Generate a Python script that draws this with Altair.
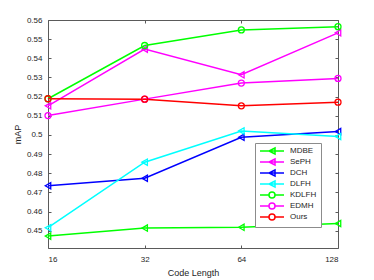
import altair as alt
import pandas as pd

code_lengths = [16, 32, 64, 128]
series_names = ["MDBE", "SePH", "DCH", "DLFH", "KDLFH", "EDMH", "Ours"]
series_colors = ["#00ff00", "#ff00ff", "#0000ff", "#00ffff", "#00ff00", "#ff00ff", "#ff0000"]
series_marker = ["tri", "tri", "tri", "tri", "circ", "circ", "circ"]

mdbe = [0.4472, 0.4514, 0.4518, 0.4538]
seph = [0.5152, 0.5448, 0.5314, 0.5533]
dch = [0.4735, 0.4774, 0.4988, 0.5018]
dlfh = [0.4516, 0.4858, 0.5021, 0.4992]
kdlfh = [0.5189, 0.5467, 0.5548, 0.5565]
edmh = [0.5101, 0.5187, 0.5271, 0.5295]
ours = [0.5189, 0.5187, 0.5152, 0.5171]

values = [mdbe, seph, dch, dlfh, kdlfh, edmh, ours]
y_ticks = [0.45, 0.46, 0.47, 0.48, 0.49, 0.50, 0.51, 0.52, 0.53, 0.54, 0.55, 0.56]

rows = []
for name, mk, vals in zip(series_names, series_marker, values):
    for x, v in zip(code_lengths, vals):
        rows.append({"len": x, "mAP": v, "method": name, "marker": mk})
df = pd.DataFrame(rows)

FONT = "Liberation Sans"
TXT = "#262626"

x_scale = alt.Scale(type="log", base=2, domain=[16, 128], nice=False)
y_scale = alt.Scale(domain=[0.441, 0.56], nice=False, zero=False)
color_scale = alt.Scale(domain=series_names, range=series_colors)

tri_path = "M-4,0H4M1,-1L-1,0L1,1Z"
circ_path = "M-4,0H-1M1,0H4M1,0A1,1,0,1,1,-1,0A1,1,0,1,1,1,0"
shape_scale = alt.Scale(domain=series_names,
                        range=[tri_path if m == "tri" else circ_path for m in series_marker])

x_main = alt.X("len:Q", scale=x_scale,
               axis=alt.Axis(values=code_lengths, title="Code Length", orient="bottom",
                             offset=-3, tickSize=3, labelPadding=7, domain=False,
                             grid=False, titlePadding=5, format="d"))
y_main = alt.Y("mAP:Q", scale=y_scale,
               axis=alt.Axis(values=y_ticks, title="mAP", orient="left",
                             offset=-3, tickSize=3, labelPadding=6, domain=False,
                             grid=False, format=".2~f", titlePadding=4))
x_top = alt.X("len:Q", scale=x_scale,
              axis=alt.Axis(values=code_lengths, title=None, orient="top", labels=False,
                            offset=-3, tickSize=3, domain=False, grid=False))
y_right = alt.Y("mAP:Q", scale=y_scale,
                axis=alt.Axis(values=y_ticks, title=None, orient="right", labels=False,
                              offset=-3, tickSize=3, domain=False, grid=False))
x_none = alt.X("len:Q", scale=x_scale, axis=None)
y_none = alt.Y("mAP:Q", scale=y_scale, axis=None)

color_enc = alt.Color("method:N", scale=color_scale, legend=None)

lines = alt.Chart(df).mark_line(strokeWidth=1.5).encode(
    x=x_main, y=y_main, color=color_enc, detail="method:N")

tri_pts = alt.Chart(df).transform_filter(alt.datum.marker == "tri").mark_point(
    shape="triangle-left", size=40, filled=False, strokeWidth=1.3, opacity=1
).encode(x=x_top, y=y_right, color=color_enc)

circ_pts = alt.Chart(df).transform_filter(alt.datum.marker == "circ").mark_point(
    shape="circle", size=36, filled=False, strokeWidth=1.3, opacity=1
).encode(x=x_none, y=y_none, color=color_enc)

leg = alt.Legend(title=None, orient="none", legendX=207, legendY=123,
                 symbolOffset=9, labelOffset=14,
                 labelFont=FONT, labelFontSize=8, labelColor=TXT,
                 symbolStrokeWidth=1.5, symbolSize=36,
                 symbolFillColor="transparent",
                 rowPadding=-1, padding=4,
                 strokeColor="#8c8c8c", fillColor="white")

legend_layer = alt.Chart(df).transform_filter("false").mark_point(
    filled=False, opacity=1, size=36, strokeWidth=1.5
).encode(
    x=x_none, y=y_none,
    color=alt.Color("method:N", scale=color_scale, legend=leg),
    shape=alt.Shape("method:N", scale=shape_scale, legend=leg),
)

chart = alt.layer(lines, tri_pts, circ_pts, legend_layer).resolve_axis(
    x="independent", y="independent"
).resolve_scale(color="independent", shape="independent").properties(
    width=290, height=228,
    autosize=alt.AutoSizeParams(type="none"),
    padding={"left": 40, "top": 12, "right": 28, "bottom": 32},
).configure_view(stroke="#5a5a5a", strokeWidth=1).configure_axis(
    labelFont=FONT, labelFontSize=8, labelColor=TXT, titleFont=FONT,
    titleFontSize=9, titleFontWeight="normal", titleColor=TXT,
    tickColor="#5a5a5a", tickWidth=1,
)

chart.save("out.html", embed_options={"renderer": "svg", "actions": False})
